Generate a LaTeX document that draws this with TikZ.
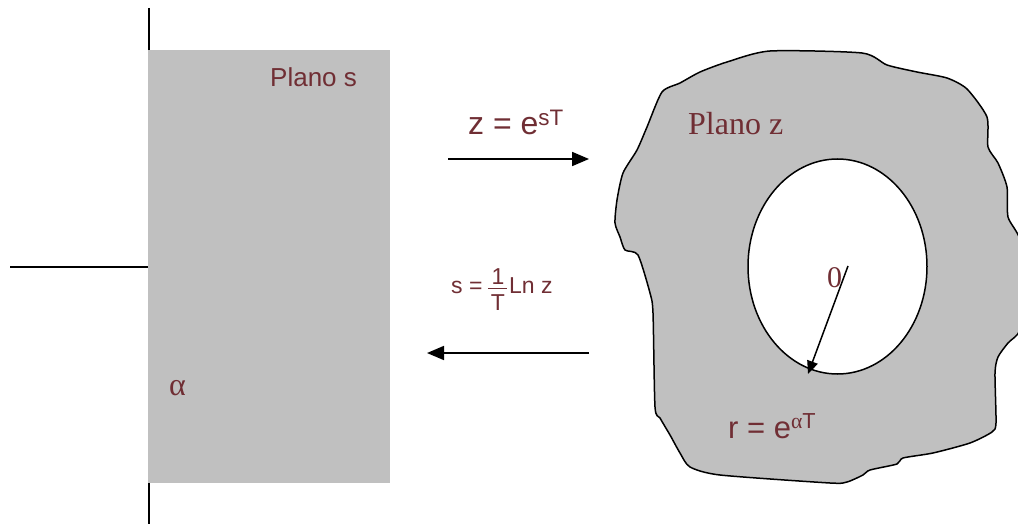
\documentclass[tikz,border=0pt]{standalone}
\usepackage{fontspec}
\setmainfont{Liberation Serif}
\setsansfont{Liberation Sans}
\usetikzlibrary{arrows.meta}
\definecolor{txt}{RGB}{112,46,52}
\definecolor{planegray}{RGB}{192,192,192}
\tikzset{
  lbl/.style={text=txt, inner sep=0pt, anchor=base west},
  fraclbl/.style={text=txt, inner sep=0pt, anchor=base, font=\sffamily\fontsize{23}{23}\selectfont},
  bigarrow/.style={line width=1.8pt, -{Triangle[length=17pt,width=14pt]}},
  axis/.style={line width=1.5pt},
}
\begin{document}
\begin{tikzpicture}[x=1pt,y=-1pt]
\useasboundingbox (0,0) rectangle (1018,524);
\begin{scope}
\clip (0,0) rectangle (1018,524);
% s-plane axes
\coordinate (vtop) at (149,8);
\coordinate (vbot) at (149,524);
\coordinate (hl) at (10,267);
\coordinate (hr) at (149,267);
\draw[axis] (vtop) -- (vbot);
\draw[axis] (hl) -- (hr);
% s-plane region
\fill[planegray] (148,50) rectangle (390,483);
\node[lbl, font=\sffamily\fontsize{26}{26}\selectfont] (plans) at (270,87) {Plano s};
\node[lbl, font=\rmfamily\fontsize{32}{32}\selectfont] (alpha) at (169,395) {α};
% z-plane blob
\draw[line width=1.5pt, fill=planegray] plot[smooth cycle, tension=0.4] coordinates {
 (770,51) (862,53) (887,65) (917,72) (947,78) (967,89) (987,117) (988,147)
 (998,163) (1007,187) (1008,217) (1020,240) (1024,290) (1020,330)
 (1008,343) (998,357) (995,373) (996,423) (992,432) (970,443) (933,453)
 (903,458) (897,464) (870,470) (863,475) (847,482) (830,483) (720,475)
 (690,467) (680,453) (670,435) (660,418) (655,407) (653,313) (650,293)
 (638,255) (625,250) (620,237) (615,223) (617,200) (623,173) (637,150)
 (647,127) (662,92) (680,83) (700,72) (727,62)};
\end{scope}
% unit circle (ellipse)
\draw[line width=1.5pt, fill=white] (837.5,266.5) ellipse [x radius=89.5, y radius=107.5];
\node[lbl, font=\rmfamily\fontsize{30}{30}\selectfont] (zero) at (827,287) {0};
\coordinate (c0) at (848,266);
\coordinate (rim) at (808,374);
\draw[line width=1.5pt, -{Triangle[length=13pt,width=11pt]}] (c0) -- (rim);
\node[lbl, font=\rmfamily\fontsize{32}{32}\selectfont] (planz) at (688,135) {Plano z};
\node[lbl, font=\sffamily\fontsize{31}{31}\selectfont] (rlbl) at (728,438) {r = e\textsuperscript{\rmfamily α\sffamily T}};
% mapping arrows
\coordinate (a1s) at (448,159);
\coordinate (a1e) at (589,159);
\draw[bigarrow] (a1s) -- (a1e);
\node[lbl, font=\sffamily\fontsize{32}{32}\selectfont] (zmap) at (468,135) {z = e\textsuperscript{sT}};
\coordinate (a2s) at (589,353);
\coordinate (a2e) at (427,353);
\draw[bigarrow] (a2s) -- (a2e);
% s = (1/T) Ln z
\node[lbl, font=\sffamily\fontsize{23}{23}\selectfont] (seq) at (451,293) {s =};
\node[fraclbl] (num) at (498,284) {1};
\node[fraclbl] (den) at (498,310) {T};
\coordinate (barl) at (488,288);
\coordinate (barr) at (507,288);
\draw[txt, line width=1pt] (barl) -- (barr);
\node[lbl, font=\sffamily\fontsize{23}{23}\selectfont] (lnz) at (509,293) {Ln z};
\end{tikzpicture}
\end{document}
